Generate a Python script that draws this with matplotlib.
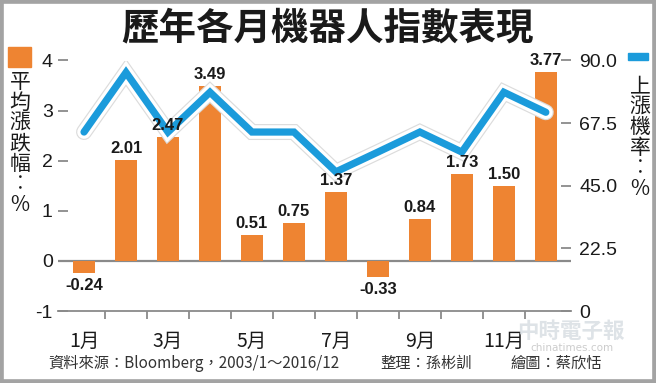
import matplotlib
matplotlib.use("Agg")
import matplotlib.pyplot as plt
import matplotlib.patheffects as pe
from matplotlib.patches import Rectangle

plt.rcParams['font.family'] = ['Noto Sans CJK TC', 'DejaVu Sans']

# ---- data ----
months = list(range(1, 13))
avg_change = [-0.24, 2.01, 2.47, 3.49, 0.51, 0.75, 1.37, -0.33, 0.84, 1.73, 1.50, 3.77]
up_ratio = [64.3, 85.7, 64.3, 78.6, 64.3, 64.3, 50.0, 57.1, 64.3, 57.1, 78.6, 71.4]
month_labels = ['1月', '3月', '5月', '7月', '9月', '11月']
month_label_pos = [1, 3, 5, 7, 9, 11]
left_ticks = [-1, 0, 1, 2, 3, 4]
right_ticks = [0, 22.5, 45, 67.5, 90]
right_tick_labels = ['0', '22.5', '45.0', '67.5', '90.0']

title = '歷年各月機器人指數表現'
left_label = ['平', '均', '漲', '跌', '幅', '︰', '%']
right_label = ['上', '漲', '機', '率', '︰', '%']

ORANGE = '#EE8432'
BLUE = '#1B9BDB'
GREY = '#8a8a8a'

W, H = 656, 383
fig = plt.figure(figsize=(W / 100, H / 100), dpi=100)
fig.patch.set_facecolor('white')

def fx(px):
    return px / W

def fy(py):
    return 1 - py / H

ax = fig.add_axes([fx(58), fy(311), fx(571) - fx(58), fy(60.5) - fy(311)])
ax2 = ax.twinx()

ax.set_xlim(0.38, 12.6)
ax.set_ylim(-1, 4)
ax2.set_ylim(0, 90)

ax.bar(months, avg_change, width=0.52, color=ORANGE, zorder=2)
ax.axhline(0, color=GREY, lw=1.6, zorder=1)

ax2.plot(months, up_ratio, color=BLUE, lw=5.2, solid_capstyle='round',
         solid_joinstyle='miter', zorder=3,
         path_effects=[pe.Stroke(linewidth=11.5, foreground='#dcdcdc'),
                       pe.Stroke(linewidth=9.8, foreground='white'),
                       pe.Normal()])

for m, v in zip(months, avg_change):
    if v >= 0:
        ax2.text(m, v + 0.08, f'{v:.2f}', transform=ax.transData, ha='center', va='bottom',
                 fontsize=12, fontweight='bold', family='Liberation Sans', color='#1a1a1a', zorder=5)
    else:
        ax2.text(m, v - 0.1, f'{v:.2f}', transform=ax.transData, ha='center', va='top',
                 fontsize=12, fontweight='bold', family='Liberation Sans', color='#1a1a1a', zorder=5)

for a in (ax, ax2):
    for s in ('top', 'left', 'right'):
        a.spines[s].set_visible(False)
ax2.spines['bottom'].set_visible(False)
ax.spines['bottom'].set_color(GREY)
ax.spines['bottom'].set_linewidth(1.3)

ax.set_yticks(left_ticks)
ax.set_yticklabels([str(t) for t in left_ticks], family='Liberation Sans')
ax.tick_params(axis='y', direction='in', length=7.2, width=1.3, color=GREY, pad=3.8,
               labelsize=14, labelcolor='#1a1a1a')

ax2.set_yticks(right_ticks)
ax2.set_yticklabels(right_tick_labels, family='Liberation Sans')
ax2.tick_params(axis='y', direction='in', length=7.2, width=1.3, color=GREY, pad=5.8,
                labelsize=14, labelcolor='#1a1a1a')

ax.set_xticks(month_label_pos)
ax.set_xticklabels(month_labels)
ax.set_xticks([m + 0.5 for m in months[:-1]], minor=True)
ax.tick_params(axis='x', which='major', length=0, pad=14.5, labelsize=14, labelcolor='#1a1a1a')
ax.tick_params(axis='x', which='minor', direction='out', length=5.8, width=1.3, color=GREY)

# title
fig.text(fx(328), fy(28), title, ha='center', va='center', fontsize=27,
         fontweight='heavy', color='#1a1a1a')

# left legend-label
fig.patches.append(Rectangle((fx(8), fy(67)), fx(23), fy(47) - fy(67), color=ORANGE,
                             transform=fig.transFigure, figure=fig))
for i, ch in enumerate(left_label):
    fig.text(fx(20), fy(82 + i * 20.5), ch, ha='center', va='center', fontsize=15,
             color='#1a1a1a')

# right legend-label
fig.patches.append(Rectangle((fx(628), fy(60)), fx(20), fy(53) - fy(60), color=BLUE,
                             transform=fig.transFigure, figure=fig))
for i, ch in enumerate(right_label):
    fig.text(fx(640), fy(86 + i * 20.5), ch, ha='center', va='center', fontsize=15,
             color='#1a1a1a')

# footer
fig.text(fx(48), fy(363), '資料來源：Bloomberg，2003/1～2016/12', ha='left', va='center',
         fontsize=11, color='#333333')
fig.text(fx(380), fy(363), '整理：孫彬訓', ha='left', va='center', fontsize=11, color='#333333')
fig.text(fx(510), fy(363), '繪圖：蔡欣恬', ha='left', va='center', fontsize=11, color='#333333')

# watermark
fig.text(fx(571), fy(331), '中時電子報', ha='center', va='center', fontsize=15.5,
         fontweight='bold', color='#d6dce1', alpha=0.8)
fig.text(fx(572), fy(348), 'chinatimes.com', ha='center', va='center', fontsize=7.5,
         family='DejaVu Sans', color='#cccccc')

# border
fig.patches.append(Rectangle((0, 0), 1, 1, fill=False, edgecolor='#a3a3a3', linewidth=5.5,
                             transform=fig.transFigure, figure=fig))

fig.savefig('out.png', dpi=100)
